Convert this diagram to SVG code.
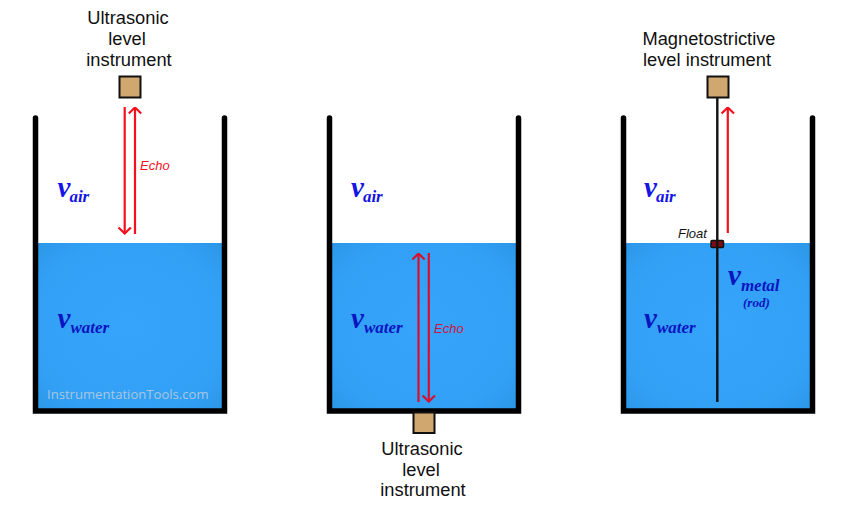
<svg xmlns="http://www.w3.org/2000/svg" width="860" height="509" viewBox="0 0 860 509">
<style>
.lbl{font:18.3px "Liberation Sans",Arial,sans-serif;fill:#111;text-anchor:middle}
.v{font:italic bold 29px "Liberation Serif","Times New Roman",serif}
.sub{font:italic bold 17px "Liberation Serif","Times New Roman",serif}
.air{fill:#1414e6}
.wat{fill:#0a14c0}
.echo{font:italic 13px "Liberation Sans",Arial,sans-serif}
.wall{fill:none;stroke:#000;stroke-width:5.5;stroke-linecap:round;stroke-linejoin:miter}
.box{fill:#cfa76f;stroke:#111;stroke-width:2}
.red{fill:none;stroke:#f5101e;stroke-width:2.2}
.redw{fill:none;stroke:#d8102e;stroke-width:2.2}
.rod{stroke:#111;stroke-width:2.4;fill:none}
</style>
<defs>
<radialGradient id="w" cx=".5" cy=".5" r=".75"><stop offset="0" stop-color="#36a4fa"/><stop offset=".7" stop-color="#31a0f5"/><stop offset="1" stop-color="#2b94e4"/></radialGradient>
<marker id="a" viewBox="0 0 8 14" refX="7.500" refY="7" markerWidth="8" markerHeight="14" markerUnits="userSpaceOnUse" orient="auto"><path d="M1 .8 7 7 1 13.200" fill="none" stroke="#f5101e" stroke-width="2.200"/></marker>
<marker id="b" viewBox="0 0 8 14" refX="7.500" refY="7" markerWidth="8" markerHeight="14" markerUnits="userSpaceOnUse" orient="auto"><path d="M1 .8 7 7 1 13.200" fill="none" stroke="#d8102e" stroke-width="2.200"/></marker>
</defs>
<g id="tank1">
<rect x="35" y="243" width="189" height="168" fill="url(#w)"/>
<path class="wall" d="M35.500 118V411H224.500V118"/>
<text class="v air" x="57.500" y="197">v<tspan class="sub" dx="-1" dy="5">air</tspan></text>
<text class="v wat" x="57.500" y="328">v<tspan class="sub" dy="5">water</tspan></text>
<text x="47" y="399" font-family="'Open Sans','Noto Sans',sans-serif" font-size="13.100" fill="#a9c6e4">InstrumentationTools.com</text>
</g>
<g id="instrument1">
<text class="lbl" x="128" y="24">Ultrasonic</text>
<text class="lbl" x="127" y="45">level</text>
<text class="lbl" x="129" y="66">instrument</text>
<rect class="box" x="119.500" y="76.500" width="21" height="21"/>
</g>
<g id="tank2">
<rect x="329" y="243" width="189" height="168" fill="url(#w)"/>
<path class="wall" d="M329.500 118V411H518.500V118"/>
<text class="v air" x="351" y="197">v<tspan class="sub" dx="-1" dy="5">air</tspan></text>
<text class="v wat" x="351" y="328">v<tspan class="sub" dy="5">water</tspan></text>
</g>
<g id="instrument2">
<rect class="box" x="413.500" y="412.500" width="21" height="20.500"/>
<text class="lbl" x="422" y="455">Ultrasonic</text>
<text class="lbl" x="421" y="476">level</text>
<text class="lbl" x="423" y="496">instrument</text>
</g>
<g id="tank3">
<rect x="623" y="243" width="189" height="168" fill="url(#w)"/>
<path class="wall" d="M623.500 118V411H812.500V118"/>
<text class="v air" x="644" y="197">v<tspan class="sub" dx="-1" dy="5">air</tspan></text>
<text class="v wat" x="644" y="328">v<tspan class="sub" dy="5">water</tspan></text>
<text class="v wat" x="728" y="285">v<tspan class="sub" dy="6">metal</tspan></text>
<text class="wat" x="743" y="307" font-family="'Liberation Serif',serif" font-size="13" font-style="italic" font-weight="bold">(rod)</text>
</g>
<g id="instrument3">
<text class="lbl" x="709" y="45">Magnetostrictive</text>
<text class="lbl" x="707" y="66">level instrument</text>
<rect class="box" x="707.500" y="76.500" width="21" height="21"/>
</g>
<g id="connectors">
<path class="red" d="M124.700 107V234" marker-end="url(#a)"/>
<path class="red" d="M135 234V107" marker-end="url(#a)"/>
<path class="redw" d="M418.500 402V253" marker-end="url(#b)"/>
<path class="redw" d="M428.800 253V402" marker-end="url(#b)"/>
<path class="rod" d="M717.300 98V402"/>
<path class="red" d="M727.800 233V107" marker-end="url(#a)"/>
</g>
<g id="float">
<rect x="711" y="240.500" width="12.500" height="7" rx="1" fill="#7a0c14" stroke="#111" stroke-width="1.500"/>
<path class="rod" d="M717.300 240V248"/>
<text x="678" y="238" font-family="'Liberation Sans',Arial,sans-serif" font-size="13" font-style="italic" fill="#111">Float</text>
</g>
<text id="echo1" class="echo" x="140" y="170" fill="#f5101e">Echo</text>
<text id="echo2" class="echo" x="434" y="333" fill="#d0123c">Echo</text>
</svg>
